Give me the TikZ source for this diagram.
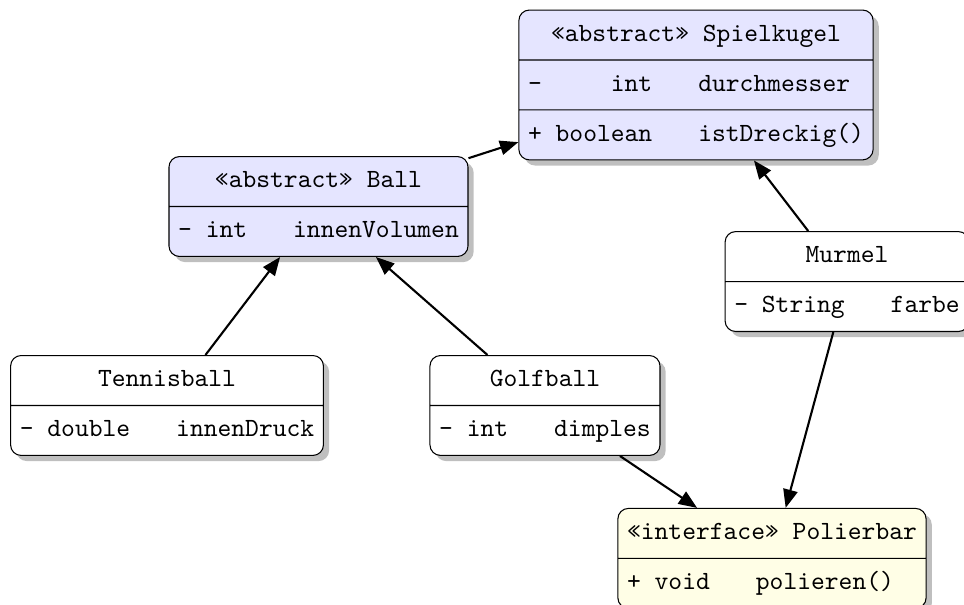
\documentclass[tikz,border=0pt]{standalone}
\usetikzlibrary{shapes.multipart, shadows, arrows.meta, positioning}

\tikzset{
	klasse/.style={rectangle split, rectangle split parts=#1,
		rectangle split part align={center,left,left},
		draw, rounded corners=4pt, fill=white, drop shadow,
		font=\ttfamily, inner xsep=3.5pt, inner ysep=3.3pt},
	abstrakt/.style={klasse=#1, fill=blue!10},
	schnitt/.style={klasse=2, fill=yellow!10},
	erbt/.style={-{Triangle[length=7pt,width=5.5pt]}, thick},
}
\newcommand{\luecke}{\hspace{1.75em}}

\begin{document}
\begin{tikzpicture}
		\useasboundingbox (0,0) rectangle (12.888,8.075);
		% Classes
		\node [abstrakt=3] (kugel) at (9.305,6.939) {\strut«abstract» Spielkugel%
			\nodepart{second}\strut- \hphantom{bool}int\luecke durchmesser%
			\nodepart{third}\strut+ boolean\luecke istDreckig()};
		\node [abstrakt=2] (ball) at (4.258,5.314) {\strut«abstract» Ball%
			\nodepart{second}\strut- int\luecke innenVolumen};
		\node [klasse=2] (murmel) at (11.324,4.311) {\strut Murmel%
			\nodepart{second}\strut- String\luecke farbe};
		\node [klasse=2] (tennis) at (2.233,2.654) {\strut Tennisball%
			\nodepart{second}\strut- double\luecke innenDruck};
		\node [klasse=2] (golf) at (7.286,2.654) {\strut Golfball%
			\nodepart{second}\strut- int\luecke dimples};
		\node [schnitt] (polier) at (10.321,0.61) {\strut«interface» Polierbar%
			\nodepart{second}\strut+ void\luecke polieren()};
		
		% Inheritance
		\draw[erbt] (ball) -- (kugel);
		\draw[erbt] (murmel) -- (kugel);
		\draw[erbt] (tennis) -- (ball);
		\draw[erbt] (golf) -- (ball);
		
		% Interface
		\draw[erbt] (golf) -- (polier);
		\draw[erbt] (murmel) -- (polier);
	\end{tikzpicture}
\end{document}
